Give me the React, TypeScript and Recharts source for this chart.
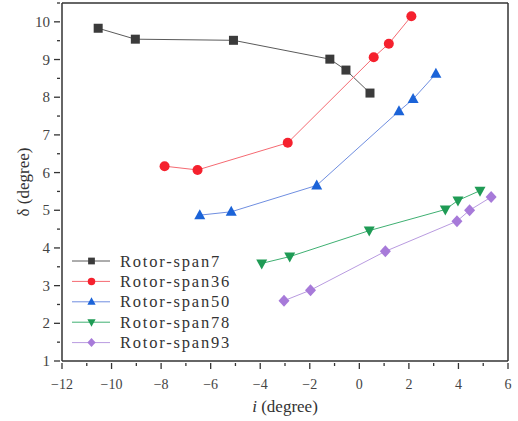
import React from "react";
import {
  ComposedChart,
  Line,
  XAxis,
  YAxis,
  ReferenceLine,
} from "recharts";

// incidence angle i (degree) and deviation δ (degree) per span
const span7I = [-10.54, -9.04, -5.08, -1.19, -0.54, 0.43];
const span7D = [9.83, 9.54, 9.51, 9.01, 8.72, 8.11];
const span36I = [-7.86, -6.53, -2.89, 0.58, 1.19, 2.1];
const span36D = [6.17, 6.07, 6.79, 9.06, 9.42, 10.15];
const span50I = [-6.44, -5.17, -1.72, 1.6, 2.17, 3.09];
const span50D = [4.87, 4.96, 5.66, 7.63, 7.95, 8.62];
const span78I = [-3.94, -2.81, 0.4, 3.47, 3.98, 4.87];
const span78D = [3.59, 3.77, 4.46, 5.02, 5.26, 5.52];
const span93I = [-3.04, -1.97, 1.05, 3.94, 4.45, 5.32];
const span93D = [2.6, 2.88, 3.91, 4.71, 5.0, 5.35];

const seriesNames = [
  "Rotor-span7",
  "Rotor-span36",
  "Rotor-span50",
  "Rotor-span78",
  "Rotor-span93",
];

const xTicks = [-12, -11, -10, -9, -8, -7, -6, -5, -4, -3, -2, -1, 0, 1, 2, 3, 4, 5, 6];
const yTicks = [1, 1.5, 2, 2.5, 3, 3.5, 4, 4.5, 5, 5.5, 6, 6.5, 7, 7.5, 8, 8.5, 9, 9.5, 10, 10.5];

const toRows = (xs: number[], ys: number[]) => xs.map((x, k) => ({ x, y: ys[k] }));

const series = [
  { name: seriesNames[0], data: toRows(span7I, span7D), shape: "square", fill: "#3b3b3b", line: "#5a5a5a" },
  { name: seriesNames[1], data: toRows(span36I, span36D), shape: "circle", fill: "#f5212e", line: "#f56a72" },
  { name: seriesNames[2], data: toRows(span50I, span50D), shape: "triangle", fill: "#1b63d8", line: "#6f8ee0" },
  { name: seriesNames[3], data: toRows(span78I, span78D), shape: "down", fill: "#1f9b55", line: "#3fb072" },
  { name: seriesNames[4], data: toRows(span93I, span93D), shape: "diamond", fill: "#a77ad9", line: "#b99be0" },
];

const serif = "'Liberation Serif', 'DejaVu Serif', serif";
const axisColor = "#333";

function Marker({ cx, cy, shape, fill, s = 1 }: any) {
  if (cx == null || cy == null) return null;
  if (shape === "square") return <rect x={cx - 4.5 * s} y={cy - 4.5 * s} width={9 * s} height={9 * s} fill={fill} />;
  if (shape === "circle") return <circle cx={cx} cy={cy} r={5 * s} fill={fill} />;
  if (shape === "triangle")
    return <polygon points={`${cx},${cy - 6 * s} ${cx + 5.5 * s},${cy + 4 * s} ${cx - 5.5 * s},${cy + 4 * s}`} fill={fill} />;
  if (shape === "down")
    return <polygon points={`${cx},${cy + 6 * s} ${cx + 5.5 * s},${cy - 4 * s} ${cx - 5.5 * s},${cy - 4 * s}`} fill={fill} />;
  return <polygon points={`${cx},${cy - 6 * s} ${cx + 5.5 * s},${cy} ${cx},${cy + 6 * s} ${cx - 5.5 * s},${cy}`} fill={fill} />;
}

function XTick({ x, y, payload }: any) {
  const v = payload.value;
  const major = v % 2 === 0;
  return (
    <g>
      <line x1={x} x2={x} y1={y} y2={y + (major ? 6 : 3)} stroke={axisColor} strokeWidth={1.3} />
      {major && (
        <text x={x} y={y + 26} textAnchor="middle" fontFamily={serif} fontSize={14} fill="#444">
          {v < 0 ? `\u2212${-v}` : v}
        </text>
      )}
    </g>
  );
}

function YTick({ x, y, payload }: any) {
  const v = payload.value;
  const major = Number.isInteger(v);
  return (
    <g>
      <line x1={x} x2={x - (major ? 6 : 3)} y1={y} y2={y} stroke={axisColor} strokeWidth={1.3} />
      {major && (
        <text x={x - 10} y={y + 5} textAnchor="end" fontFamily={serif} fontSize={15} fill="#444">
          {v}
        </text>
      )}
    </g>
  );
}

function LegendBox() {
  return (
    <svg width={200} height={110} style={{ position: "absolute", left: 70, top: 250 }}>
      {series.map((s, k) => {
        const cy = 11 + k * 20.4;
        return (
          <g key={s.name}>
            <line x1={2} x2={40} y1={cy} y2={cy} stroke={s.line} strokeWidth={1} />
            <Marker cx={21.5} cy={cy} shape={s.shape} fill={s.fill} s={0.75} />
            <text
              x={50}
              y={cy + 5.5}
              fontFamily={serif}
              fontSize={16.5}
              letterSpacing={1.8}
              fill="#333"
            >
              {s.name}
            </text>
          </g>
        );
      })}
    </svg>
  );
}

export default function App() {
  return (
    <div style={{ position: "absolute", left: 0, top: 0, width: 518, height: 421, background: "#fff" }}>
      <ComposedChart width={518} height={421} margin={{ top: 3, right: 10, left: 0, bottom: 0 }}>
        <XAxis
          dataKey="x"
          type="number"
          domain={[-12, 6]}
          ticks={xTicks}
          interval={0}
          allowDuplicatedCategory={false}
          height={60}
          tickSize={0}
          tickLine={false}
          tick={<XTick />}
          stroke={axisColor}
          strokeWidth={1.5}
          label={{
            content: () => (
              <text x={285} y={412} textAnchor="middle" fontFamily={serif} fontSize={17} fill="#333">
                <tspan fontStyle="italic">i</tspan> (degree)
              </text>
            ),
          }}
        />
        <YAxis
          type="number"
          domain={[1, 10.5]}
          ticks={yTicks}
          interval={0}
          width={62}
          tickSize={0}
          tickLine={false}
          tick={<YTick />}
          stroke={axisColor}
          strokeWidth={1.5}
          label={{
            content: () => (
              <text
                x={29}
                y={182}
                textAnchor="middle"
                transform="rotate(-90 29 182)"
                fontFamily={serif}
                fontSize={17}
                fill="#333"
              >
                δ (degree)
              </text>
            ),
          }}
        />
        <ReferenceLine y={10.5} stroke={axisColor} strokeWidth={1.5} />
        <ReferenceLine x={6} stroke={axisColor} strokeWidth={1.5} />
        {series.map((s) => (
          <Line
            key={s.name}
            data={s.data}
            dataKey="y"
            name={s.name}
            type="linear"
            stroke={s.line}
            strokeWidth={1}
            isAnimationActive={false}
            dot={(p: any) => <Marker key={p.index} cx={p.cx} cy={p.cy} shape={s.shape} fill={s.fill} />}
            activeDot={false}
          />
        ))}
      </ComposedChart>
      <LegendBox />
    </div>
  );
}
